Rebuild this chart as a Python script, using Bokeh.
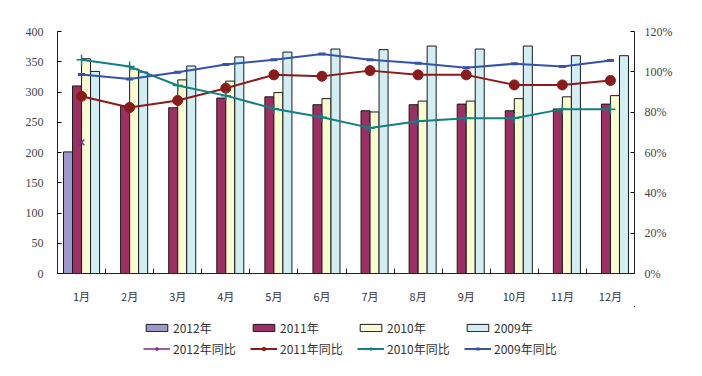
from bokeh.plotting import figure
from bokeh.models import (ColumnDataSource, Range1d, LinearAxis, FixedTicker, PrintfTickFormatter,
                          Legend, LegendItem, Div)
from bokeh.layouts import column
from bokeh.transform import dodge
from bokeh.embed import file_html
from bokeh.resources import INLINE

months = ["1月", "2月", "3月", "4月", "5月", "6月", "7月", "8月", "9月", "10月", "11月", "12月"]
sales_2012 = [201]
sales_2011 = [310, 277, 274, 290, 292, 279, 269, 279, 280, 269, 272, 280]
sales_2010 = [355, 338, 320, 318, 299, 289, 267, 285, 285, 289, 292, 294]
sales_2009 = [334, 333, 343, 358, 366, 371, 370, 376, 371, 376, 360, 360]
yoy_2012 = [65]
yoy_2011 = [87.9, 82.3, 85.8, 91.9, 98.5, 97.8, 100.6, 98.5, 98.5, 93.5, 93.5, 95.7]
yoy_2010 = [106.0, 102.6, 93.2, 88.2, 81.7, 77.5, 72.2, 75.5, 77.0, 77.0, 81.5, 81.5]
yoy_2009 = [98.7, 96.5, 99.8, 103.6, 106.0, 108.9, 106.0, 104.3, 102.0, 104.0, 102.6, 105.6]

xs = list(range(1, len(months) + 1))
src = ColumnDataSource(dict(x=xs, s11=sales_2011, s10=sales_2010, s09=sales_2009,
                            p11=yoy_2011, p10=yoy_2010, p09=yoy_2009))
src12 = ColumnDataSource(dict(x=xs[:len(sales_2012)], s12=sales_2012, p12=yoy_2012))

FW, FH = 577, 242
BL, BR = 57, 52
p = figure(frame_width=FW, frame_height=FH, output_backend="svg", toolbar_location=None,
           x_range=Range1d(0.5, 12.5), y_range=Range1d(0, 400),
           min_border_left=BL, min_border_right=BR, min_border_top=31, min_border_bottom=32)
p.extra_y_ranges = {"pct": Range1d(0, 120)}
p.grid.visible = False
p.outline_line_color = None
p.background_fill_color = "white"

FONT_CJK = "Noto Sans CJK SC"
TXT = "#333333"

# x axis
xa = p.xaxis[0]
xa.ticker = FixedTicker(ticks=xs, minor_ticks=[x + 0.5 for x in xs[:-1]])
xa.major_label_overrides = {x: m for x, m in zip(xs, months)}
xa.major_tick_line_color = None
xa.minor_tick_in = 5
xa.minor_tick_out = 0
xa.minor_tick_line_color = "#222222"
xa.axis_line_color = "#222222"
xa.major_label_text_font = FONT_CJK
xa.major_label_text_font_size = "11px"
xa.major_label_text_color = TXT
xa.major_label_standoff = 8

# left y axis
ya = p.yaxis[0]
ya.ticker = FixedTicker(ticks=list(range(0, 401, 50)))
ya.major_tick_in = 4
ya.major_tick_out = 0
ya.minor_tick_line_color = None
ya.axis_line_color = "#222222"
ya.major_label_text_font = "Liberation Serif"
ya.major_label_text_font_size = "12px"
ya.major_label_text_color = "#444444"
ya.major_label_standoff = 14

# right y axis
ra = LinearAxis(y_range_name="pct", ticker=FixedTicker(ticks=list(range(0, 121, 20))),
                formatter=PrintfTickFormatter(format="%d%%"))
ra.major_tick_in = 4
ra.major_tick_out = 0
ra.minor_tick_line_color = None
ra.axis_line_color = "#222222"
ra.major_label_text_font = "Liberation Serif"
ra.major_label_text_font_size = "12px"
ra.major_label_text_color = "#444444"
ra.major_label_standoff = 10
p.add_layout(ra, "right")

bw = 0.1875
c12, c11, c10, c09 = "#9B98CC", "#9B3163", "#FBFBD2", "#D3EEF3"
lc12, lc11, lc10, lc09 = "#7A2A8A", "#8B1A1A", "#108080", "#3553AA"


def draw(fig, s, s12, yr):
    r = {}
    r["b12"] = fig.vbar(x=dodge("x", -1.5 * bw), top="s12", width=bw, source=s12,
                        fill_color=c12, line_color="#1a1a1a", line_width=1)
    r["b11"] = fig.vbar(x=dodge("x", -0.5 * bw), top="s11", width=bw, source=s,
                        fill_color=c11, line_color="#1a1a1a", line_width=1)
    r["b10"] = fig.vbar(x=dodge("x", 0.5 * bw), top="s10", width=bw, source=s,
                        fill_color=c10, line_color="#1a1a1a", line_width=1)
    r["b09"] = fig.vbar(x=dodge("x", 1.5 * bw), top="s09", width=bw, source=s,
                        fill_color=c09, line_color="#1a1a1a", line_width=1)
    kw = {"y_range_name": yr} if yr else {}
    r["l12"] = fig.line("x", "p12", source=s12, line_color=lc12, line_width=1.5, **kw)
    r["m12"] = fig.scatter("x", "p12", source=s12, marker="asterisk", size=8,
                           line_color=lc12, line_width=1.5, **kw)
    r["l11"] = fig.line("x", "p11", source=s, line_color=lc11, line_width=2, **kw)
    r["m11"] = fig.scatter("x", "p11", source=s, marker="circle", size=10,
                           fill_color=lc11, line_color=lc11, **kw)
    r["l10"] = fig.line("x", "p10", source=s, line_color=lc10, line_width=2, **kw)
    r["m10"] = fig.scatter("x", "p10", source=s, marker="cross", size=10,
                           line_color=lc10, line_width=1.5, **kw)
    r["l09"] = fig.line("x", "p09", source=s, line_color=lc09, line_width=2, **kw)
    r["m09"] = fig.scatter("x", "p09", source=s, marker="dash", size=7,
                           line_color=lc09, line_width=3, **kw)
    return r


main = draw(p, src, src12, "pct")
main["m12"].glyph.marker = "x"

# legend panel (separate figure so the legend is not clipped); its ranges keep the data out of view
lf = figure(frame_width=FW, frame_height=67, output_backend="svg", toolbar_location=None,
            x_range=Range1d(-20, -19), y_range=Range1d(-20, -19),
            min_border_left=BL, min_border_right=BR, min_border_top=0, min_border_bottom=0)
lf.axis.visible = False
lf.grid.visible = False
lf.outline_line_color = None
lr = draw(lf, src, src12, None)


def make_legend(items, loc):
    return Legend(items=items, orientation="horizontal", location=loc,
                  glyph_width=27, glyph_height=9, label_width=70, spacing=7,
                  label_standoff=3, padding=0, margin=0, border_line_color=None,
                  background_fill_alpha=0, label_text_font=FONT_CJK,
                  label_text_font_size="12px", label_text_color=TXT, label_height=14)


leg1 = make_legend([LegendItem(label="2012年", renderers=[lr["b12"]]),
                    LegendItem(label="2011年", renderers=[lr["b11"]]),
                    LegendItem(label="2010年", renderers=[lr["b10"]]),
                    LegendItem(label="2009年", renderers=[lr["b09"]])], (86, 37))
leg2 = make_legend([LegendItem(label="2012年同比", renderers=[lr["l12"], lr["m12"]]),
                    LegendItem(label="2011年同比", renderers=[lr["l11"], lr["m11"]]),
                    LegendItem(label="2010年同比", renderers=[lr["l10"], lr["m10"]]),
                    LegendItem(label="2009年同比", renderers=[lr["l09"], lr["m09"]])], (86, 16))
lf.add_layout(leg1, "center")
lf.add_layout(leg2, "center")

line = Div(text="", width=BL + FW + BR, height=1, styles={"background-color": "#444444"})
lay = column(p, lf, line, spacing=0)

open("out.html", "w").write(file_html(lay, INLINE))
